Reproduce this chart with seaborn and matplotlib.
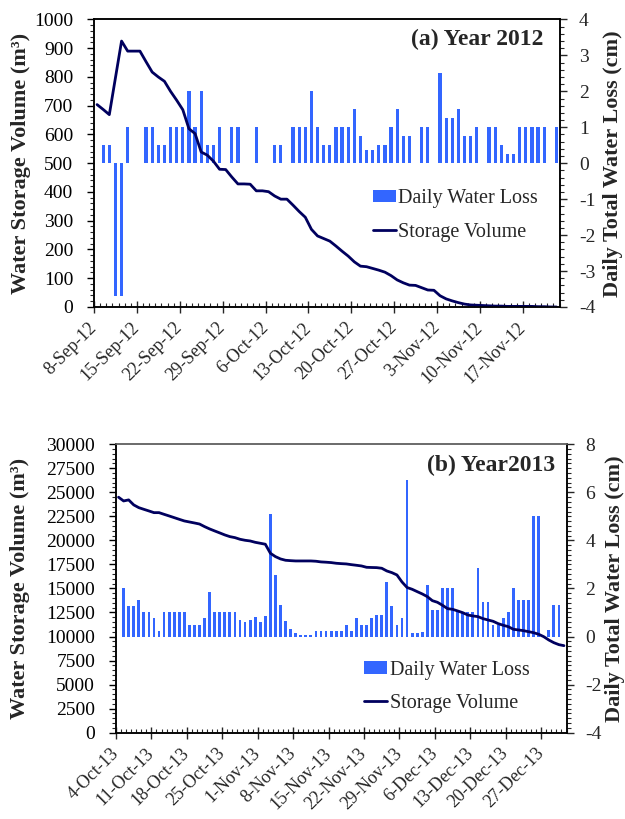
import numpy as np
import pandas as pd
import matplotlib
matplotlib.use('Agg')
import matplotlib.pyplot as plt
import seaborn as sns
from matplotlib.ticker import MultipleLocator
from matplotlib.patches import Patch
from matplotlib.lines import Line2D

sns.set_theme(style='white')
plt.rcParams['font.family'] = ['Liberation Serif', 'DejaVu Serif']

BAR = '#3366FF'
LINE = '#00005E'

# ---------------- data: 2012 (daily, from 8-Sep-12) ----------------
storage_2012 = [704, 687, 669, 797, 925, 890, 890, 890, 853, 817,
                800, 785, 750, 719, 686, 620, 603, 539, 528, 507,
                479, 478, 452, 428, 428, 427, 404, 404, 401, 386,
                375, 375, 354, 332, 312, 270, 247, 238, 229, 212,
                194, 177, 157, 142, 140, 134, 128, 121, 109, 94,
                84, 76, 75, 67, 59, 58, 39, 28, 21, 15,
                10, 7, 6, 5, 4, 3, 3, 2, 2, 2,
                2, 2, 1, 1, 0, 0]
loss_2012 = [0, 0.5, 0.5, -3.7, -3.7, 1.0, 0, 0, 1.0, 1.0,
             0.5, 0.5, 1.0, 1.0, 1.0, 2.0, 1.0, 2.0, 0.5, 0.5,
             1.0, 0, 1.0, 1.0, 0, 0, 1.0, 0, 0, 0.5,
             0.5, 0, 1.0, 1.0, 1.0, 2.0, 1.0, 0.5, 0.5, 1.0,
             1.0, 1.0, 1.5, 0.75, 0.375, 0.375, 0.5, 0.5, 1.0, 1.5,
             0.75, 0.75, 0, 1.0, 1.0, 0, 2.5, 1.25, 1.25, 1.5,
             0.75, 0.75, 1.0, 0, 1.0, 1.0, 0.5, 0.25, 0.25, 1.0,
             1.0, 1.0, 1.0, 1.0, 0, 1.0]
ticks_2012 = ['8-Sep-12', '15-Sep-12', '22-Sep-12', '29-Sep-12', '6-Oct-12',
              '13-Oct-12', '20-Oct-12', '27-Oct-12', '3-Nov-12', '10-Nov-12',
              '17-Nov-12']

# ---------------- data: 2013 (daily, from 4-Oct-13) ----------------
storage_2013 = [24490, 24100, 24210, 23690, 23405, 23230, 23060, 22885, 22885, 22710,
                22540, 22365, 22190, 22020, 21915, 21810, 21700, 21430, 21190, 20980,
                20775, 20565, 20390, 20285, 20115, 20010, 19940, 19800, 19700, 19600,
                18660, 18310, 18070, 17930, 17890, 17860, 17860, 17860, 17860, 17830,
                17760, 17730, 17690, 17620, 17580, 17550, 17475, 17410, 17340, 17200,
                17180, 17165, 17100, 16820, 16645, 16405, 15675, 15100, 14915, 14670,
                14430, 14150, 13730, 13560, 13250, 12900, 12830, 12660, 12480, 12240,
                12140, 12070, 11860, 11720, 11585, 11340, 11170, 11025, 10755, 10685,
                10610, 10505, 10400, 10235, 9985, 9640, 9360, 9155, 9050]
loss_2013 = [0, 2.0, 1.25, 1.25, 1.5, 1.0, 1.0, 0.75, 0.25, 1.0,
             1.0, 1.0, 1.0, 1.0, 0.5, 0.5, 0.5, 0.75, 1.85, 1.0,
             1.0, 1.0, 1.0, 1.0, 0.7, 0.6, 0.7, 0.8, 0.6, 0.85,
             5.1, 2.55, 1.3, 0.65, 0.3, 0.15, 0.08, 0.05, 0.05, 0.25,
             0.25, 0.25, 0.25, 0.25, 0.25, 0.5, 0.25, 0.75, 0.5, 0.5,
             0.75, 0.9, 0.9, 2.25, 1.25, 0.5, 0.75, 6.5, 0.14, 0.14,
             0.2, 2.15, 1.1, 1.1, 2.0, 2.0, 2.0, 1.0, 1.0, 1.0,
             1.0, 2.87, 1.45, 1.45, 0.5, 0.5, 0.75, 1.0, 2.0, 1.5,
             1.5, 1.5, 5.0, 5.0, 0, 0.28, 1.3, 1.3, 0]
ticks_2013 = ['4-Oct-13', '11-Oct-13', '18-Oct-13', '25-Oct-13', '1-Nov-13',
              '8-Nov-13', '15-Nov-13', '22-Nov-13', '29-Nov-13', '6-Dec-13',
              '13-Dec-13', '20-Dec-13', '27-Dec-13']

TICK_FS = 14
XTICK_FS = 13
LAB_FS = 16
LEG_FS = 14.5
TITLE_FS = 17


def panel(fig, rect, storage, loss, ticklabels, lylim, lmaj, lmin, rylim, rmaj, rmin,
          title, title_xy, leg_anchor, top_color, ylab_x, rlab_x, lpad, rpad):
    ax1 = fig.add_axes(rect)
    ax2 = ax1.twinx()
    n = len(storage)
    df = pd.DataFrame({'pos': np.arange(n) + 0.5, 'storage': storage, 'loss': loss})

    sns.barplot(data=df, x='pos', y='loss', native_scale=True, width=0.55,
                color=BAR, saturation=1, errorbar=None, linewidth=0, ax=ax2)
    sns.lineplot(data=df, x='pos', y='storage', color=LINE, linewidth=2.0, ax=ax1)

    ax1.set_zorder(ax2.get_zorder() + 1)
    ax1.patch.set_visible(False)

    ax1.set_xlim(0, n)
    ax1.set_ylim(*lylim)
    ax2.set_ylim(*rylim)

    ax1.yaxis.set_major_locator(MultipleLocator(lmaj))
    ax1.yaxis.set_minor_locator(MultipleLocator(lmin))
    ax2.yaxis.set_major_locator(MultipleLocator(rmaj))
    ax2.yaxis.set_minor_locator(MultipleLocator(rmin))
    ax1.yaxis.set_major_formatter(matplotlib.ticker.FuncFormatter(lambda v, p: f'{v:.0f}'))
    ax2.yaxis.set_major_formatter(matplotlib.ticker.FuncFormatter(lambda v, p: f'{v:.0f}'))

    ax1.set_xticks(np.arange(len(ticklabels)) * 7)
    ax1.set_xticklabels(ticklabels, rotation=45, ha='right', va='center',
                        rotation_mode='anchor', fontsize=XTICK_FS)
    ax1.xaxis.set_minor_locator(MultipleLocator(1))

    ax1.tick_params(axis='y', which='major', direction='out', length=5, width=1,
                    labelsize=TICK_FS, pad=lpad, left=True, colors='black')
    ax1.tick_params(axis='y', which='minor', direction='out', length=3, width=0.8, left=True)
    ax2.tick_params(axis='y', which='major', direction='out', length=5, width=1,
                    labelsize=TICK_FS, pad=rpad, right=True)
    ax2.tick_params(axis='y', which='minor', direction='out', length=3, width=0.8, right=True)
    ax1.tick_params(axis='x', which='major', direction='inout', length=8, width=1,
                    pad=9, bottom=True)
    ax1.tick_params(axis='x', which='minor', direction='in', length=3, width=0.8, bottom=True)

    for a in (ax1, ax2):
        for s in a.spines.values():
            s.set_color('black')
            s.set_linewidth(1.1)
        a.spines['top'].set_color(top_color)

    ax1.set_xlabel('')
    ax1.set_ylabel('Water Storage Volume (m³)', fontsize=LAB_FS, fontweight='bold')
    ax2.set_ylabel('Daily Total Water Loss (cm)', fontsize=LAB_FS, fontweight='bold',
                   rotation=90)
    ax1.yaxis.set_label_coords(ylab_x, 0.5)
    ax2.yaxis.set_label_coords(rlab_x, 0.5)

    ax1.text(title_xy[0], title_xy[1], title, transform=ax1.transAxes,
             ha='right', va='center', fontsize=TITLE_FS, fontweight='bold')

    handles = [Patch(facecolor=BAR, edgecolor='none'),
               Line2D([], [], color=LINE, lw=2.0)]
    ax1.legend(handles, ['Daily Water Loss', 'Storage Volume'], loc='upper left',
               bbox_to_anchor=leg_anchor, frameon=False, fontsize=LEG_FS,
               handlelength=1.15, handleheight=0.55, handletextpad=0.12,
               labelspacing=0.72, borderpad=0, borderaxespad=0)
    return ax1, ax2


fig = plt.figure(figsize=(6.25, 8.19), dpi=100)

panel(fig, [0.1504, 0.6252, 0.7448, 0.351], storage_2012, loss_2012, ticks_2012,
      (0, 1000), 100, 20, (-4, 4), 1, 0.2,
      '(a) Year 2012', (0.965, 0.929), (0.599, 0.41), 'black', -0.135, 1.094, 10, 9)

panel(fig, [0.1856, 0.1054, 0.7208, 0.3522], storage_2013, loss_2013, ticks_2013,
      (0, 30000), 2500, 500, (-4, 8), 2, 0.2,
      '(b) Year2013', (0.9745, 0.925), (0.5505, 0.25), '#666666', -0.19, 1.085, 10, 8.5)

fig.savefig('out.png', dpi=100)
